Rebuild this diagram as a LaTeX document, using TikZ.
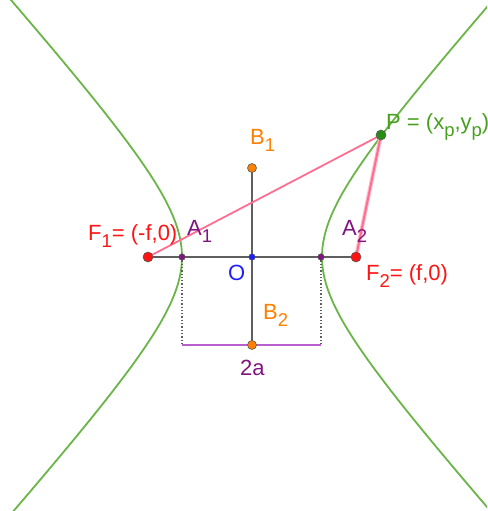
\documentclass[tikz,border=0pt]{standalone}
\usepackage{fontspec}
\setmainfont{Liberation Sans}
\definecolor{hyp}{RGB}{107,181,72}
\definecolor{ptext}{RGB}{70,160,30}
\definecolor{pfill}{RGB}{40,140,20}
\definecolor{fred}{RGB}{255,20,20}
\definecolor{pinkl}{RGB}{255,110,145}
\definecolor{pinkh}{RGB}{255,190,205}
\definecolor{apurp}{RGB}{128,20,128}
\definecolor{lpurp}{RGB}{185,95,205}
\definecolor{borange}{RGB}{255,128,0}
\definecolor{oblue}{RGB}{30,30,255}
\definecolor{axgray}{RGB}{95,95,95}
\tikzset{
  dotpt/.style={circle, inner sep=0pt, minimum size=#1, draw=black!65, line width=0.6pt},
  lbl/.style={font=\fontsize{22}{25}\selectfont, inner sep=0pt, anchor=base west},
  curve/.style={hyp, line width=1.8pt},
  axis/.style={axgray, line width=2pt},
  guide/.style={axgray, dotted, line width=1.3pt},
  focal/.style={pinkl, line width=1.8pt},
}
\newcommand\sbs[1]{\raisebox{-7pt}{\fontsize{18.5}{18.5}\selectfont #1}}
\begin{document}
\begin{tikzpicture}[x=1pt,y=-1pt]
\useasboundingbox (0,0) rectangle (487,511);
\begin{scope}
\clip (0,0) rectangle (487,511);
\draw[curve] plot[domain=-2.1:2.1,samples=150,smooth] ({252+70*cosh(\x)},{257+78*sinh(\x)});
\draw[curve] plot[domain=-2.1:2.1,samples=150,smooth] ({252-70*cosh(\x)},{257+78*sinh(\x)});
\end{scope}
% coordinates
\coordinate (cF1) at (148,257);
\coordinate (cA1) at (182,257);
\coordinate (cO) at (252,257);
\coordinate (cA2) at (321,257);
\coordinate (cF2) at (356,257);
\coordinate (cB1) at (252,168);
\coordinate (cB2) at (252,345);
\coordinate (cP) at (381,135);
\coordinate (D1) at (182,345);
\coordinate (D2) at (321,345);
% lines
\draw[axis] (cF1) -- (cF2);
\draw[axis] (cB1) -- (cB2);
\draw[guide] (cA1) -- (D1);
\draw[guide] (cA2) -- (D2);
\draw[lpurp, line width=1.8pt] (D1) -- (D2);
\draw[focal] (cF1) -- (cP);
\draw[pinkh, line width=4pt] (cP) -- (cF2);
\draw[focal, line width=2pt] (cP) -- (cF2);
% points
\node[dotpt=10pt, fill=fred] (F1) at (cF1) {};
\node[dotpt=10pt, fill=fred] (F2) at (cF2) {};
\node[dotpt=6.5pt, fill=apurp] (A1) at (cA1) {};
\node[dotpt=6.5pt, fill=apurp] (A2) at (cA2) {};
\node[dotpt=6.5pt, fill=oblue] (O) at (cO) {};
\node[dotpt=9pt, fill=borange] (B1) at (cB1) {};
\node[dotpt=9pt, fill=borange] (B2) at (cB2) {};
\node[dotpt=10pt, fill=pfill] (P) at (cP) {};
% labels
\node[lbl, fred] (lF1) at (88,240) {F\sbs{1}= (-f,0)};
\node[lbl, apurp] (lA1) at (187,235) {A\sbs{1}};
\node[lbl, oblue] (lO) at (228,280) {O};
\node[lbl, borange] (lB1) at (250,144) {B\sbs{1}};
\node[lbl, borange] (lB2) at (263,319) {B\sbs{2}};
\node[lbl, apurp] (l2a) at (240,375) {2a};
\node[lbl, apurp] (lA2) at (342,235) {A\sbs{2}};
\node[lbl, fred] (lF2) at (366,280) {F\sbs{2}= (f,0)};
\node[lbl, ptext] (lP) at (386,129) {P = (x\sbs{p},y\sbs{p})};
\end{tikzpicture}
\end{document}
